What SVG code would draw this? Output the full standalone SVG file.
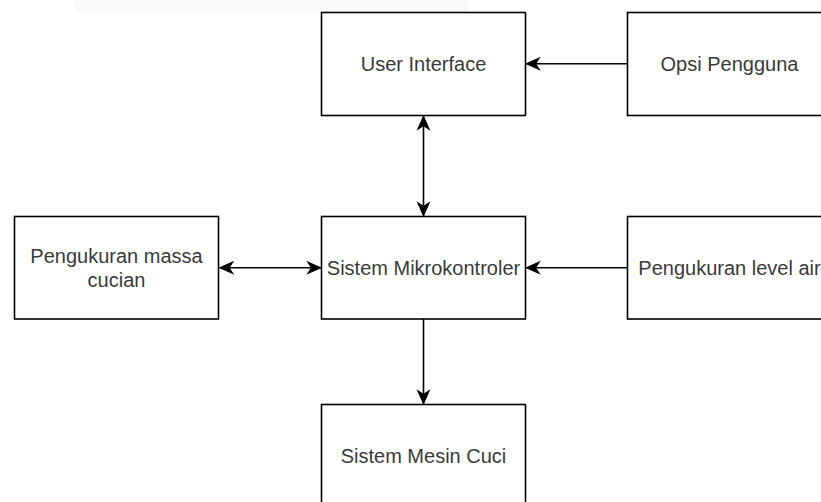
<svg xmlns="http://www.w3.org/2000/svg" width="821" height="502" viewBox="0 0 821 502">
<style>
.box{fill:#fff;stroke:#000;stroke-width:1.6}
.lbl{font-family:"Liberation Sans",Arial,Helvetica,sans-serif;font-size:20px;fill:#3a3a3a;text-anchor:middle}
.edge{fill:none;stroke:#000;stroke-width:1.6}
</style>
<defs>
<marker id="arr" markerUnits="userSpaceOnUse" markerWidth="18" markerHeight="16" viewBox="-16 -8 18 16" refX="0" refY="0" orient="auto-start-reverse">
<path d="M0,0 L-12.5,-5.5 L-9,0 L-12.5,5.5 Z" fill="#000" stroke="#000" stroke-width="1.3" stroke-linejoin="miter"/>
</marker>
</defs>
<rect x="75" y="0" width="393" height="12" fill="#fafafa"/>
<g id="connectors">
<path class="edge" d="M627.5,63.75 L526.5,63.75" marker-end="url(#arr)"/>
<path class="edge" d="M423.5,116.5 L423.5,215.5" marker-start="url(#arr)" marker-end="url(#arr)"/>
<path class="edge" d="M220,267.75 L320.5,267.75" marker-start="url(#arr)" marker-end="url(#arr)"/>
<path class="edge" d="M627.5,267.75 L526.5,267.75" marker-end="url(#arr)"/>
<path class="edge" d="M423.5,319 L423.5,403.5" marker-end="url(#arr)"/>
</g>
<g id="user-interface">
<rect class="box" x="321.5" y="12.5" width="204" height="103"/>
<text class="lbl" x="423.5" y="71">User Interface</text>
</g>
<g id="opsi-pengguna">
<rect class="box" x="627.5" y="12.5" width="204" height="103"/>
<text class="lbl" x="729.5" y="71">Opsi Pengguna</text>
</g>
<g id="pengukuran-massa">
<rect class="box" x="14.5" y="216.5" width="204" height="102.5"/>
<text class="lbl" x="116.5" y="262.5">Pengukuran massa</text>
<text class="lbl" x="116.5" y="286.5">cucian</text>
</g>
<g id="sistem-mikrokontroler">
<rect class="box" x="321.5" y="216.5" width="204" height="102.5"/>
<text class="lbl" x="423.5" y="275">Sistem Mikrokontroler</text>
</g>
<g id="pengukuran-level-air">
<rect class="box" x="627.5" y="216.5" width="204" height="102.5"/>
<text class="lbl" x="729.5" y="275">Pengukuran level air</text>
</g>
<g id="sistem-mesin-cuci">
<rect class="box" x="321.5" y="404.5" width="204" height="103"/>
<text class="lbl" x="423.5" y="463">Sistem Mesin Cuci</text>
</g>
</svg>
